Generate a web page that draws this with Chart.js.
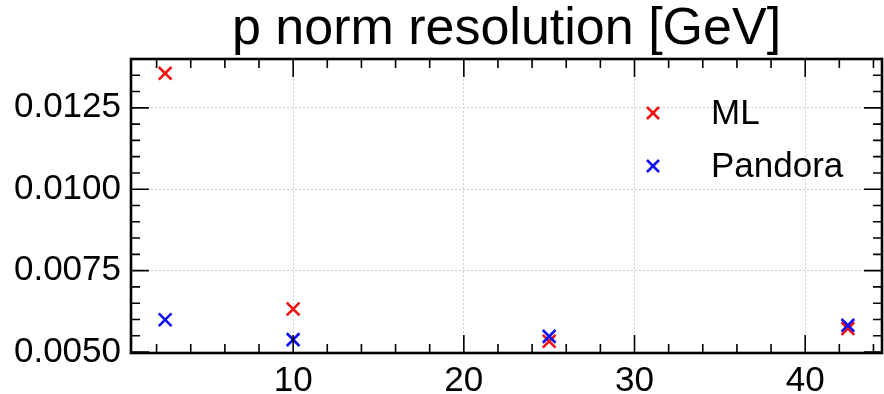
<!DOCTYPE html>
<html>
<head>
<meta charset="utf-8">
<script src="https://cdn.jsdelivr.net/npm/chart.js@4/dist/chart.umd.min.js"></script>
<style>
  html, body { margin: 0; padding: 0; background: #fff; }
  #resChart { display: block; }
</style>
</head>
<body>
<canvas id="resChart" width="884" height="394"></canvas>
<script>
// energy points and resolution per method
const energies = [2.5, 10, 25, 42.5];
const mlRes = [0.01356, 0.00632, 0.00533, 0.00572];
const pandoraRes = [0.00599, 0.00538, 0.00548, 0.00582];

const xTicks = [10, 20, 30, 40];
const yTicks = [0.0050, 0.0075, 0.0100, 0.0125];
const xMinorStep = 2;
const yMinorStep = 0.0005;

const FONT = "'Liberation Sans', Arial, Helvetica, sans-serif";

function toPoints(xs, ys) {
    return xs.map((x, i) => ({ x: x, y: ys[i] }));
}

// mpl-style frame with inward ticks on all four sides
const frameTicks = {
    id: 'frameTicks',
    afterDraw(chart) {
        const ctx = chart.ctx;
        const a = chart.chartArea;
        const xs = chart.scales.x, ys = chart.scales.y;
        const major = 18, minor = 9;
        ctx.save();
        ctx.strokeStyle = '#000';
        ctx.lineWidth = 1.6;
        ctx.beginPath();
        for (let v = Math.ceil(xs.min / xMinorStep) * xMinorStep; v <= xs.max; v += xMinorStep) {
            const len = xTicks.includes(v) ? major : minor;
            const px = xs.getPixelForValue(v);
            ctx.moveTo(px, a.bottom); ctx.lineTo(px, a.bottom - len);
            ctx.moveTo(px, a.top); ctx.lineTo(px, a.top + len);
        }
        const n = Math.round((ys.max - ys.min) / yMinorStep);
        for (let i = 0; i <= n + 1; i++) {
            const v = +(Math.ceil(ys.min / yMinorStep - 1e-6) * yMinorStep + i * yMinorStep).toFixed(6);
            if (v > ys.max) break;
            const isMajor = yTicks.some(t => Math.abs(t - v) < 1e-7);
            const len = isMajor ? major : minor;
            const py = ys.getPixelForValue(v);
            ctx.moveTo(a.left, py); ctx.lineTo(a.left + len, py);
            ctx.moveTo(a.right, py); ctx.lineTo(a.right - len, py);
        }
        ctx.stroke();
        ctx.lineWidth = 2.6;
        ctx.strokeRect(a.left, a.top, a.right - a.left, a.bottom - a.top);

        // legend in the upper right of the plot
        ctx.font = '35px ' + FONT;
        ctx.textBaseline = 'middle';
        chart.data.datasets.forEach((ds, i) => {
            const mx = a.right - 229, my = a.top + 54 + i * 53;
            ctx.strokeStyle = ds.borderColor;
            ctx.fillStyle = ds.borderColor;
            Chart.helpers.drawPoint(ctx, { pointStyle: 'crossRot', radius: 8.5, borderWidth: 2.4 }, mx, my);
            ctx.fillStyle = '#000';
            ctx.fillText(ds.label, a.right - 171, my + 1);
        });
        ctx.restore();
    }
};

const config = {
    type: 'scatter',
    data: {
        datasets: [{
            label: 'ML',
            data: toPoints(energies, mlRes),
            borderColor: '#f01010',
            backgroundColor: '#f01010',
            pointStyle: 'crossRot',
            pointRadius: 9,
            pointBorderWidth: 2.6,
            order: 1
        }, {
            label: 'Pandora',
            data: toPoints(energies, pandoraRes),
            borderColor: '#1010f0',
            backgroundColor: '#1010f0',
            pointStyle: 'crossRot',
            pointRadius: 9,
            pointBorderWidth: 2.6,
            order: 0
        }]
    },
    options: {
        responsive: false,
        animation: false,
        devicePixelRatio: 1,
        layout: { autoPadding: false, padding: { right: 2, left: 0, top: 0, bottom: 0 } },
        plugins: {
            legend: { display: false },
            tooltip: { enabled: false },
            title: {
                display: true,
                fullSize: false,
                text: 'p norm resolution [GeV]',
                color: '#000',
                font: { family: FONT, size: 52, weight: 'normal', lineHeight: 1.0 },
                padding: { top: 4, bottom: 3 }
            }
        },
        scales: {
            x: {
                type: 'linear',
                min: 0.5,
                max: 44.5,
                afterBuildTicks: (s) => { s.ticks = xTicks.map(v => ({ value: v })); },
                afterFit: (s) => { s.height = 41; },
                border: { display: false, dash: [2, 2] },
                grid: { color: '#cfcfcf', lineWidth: 1, drawTicks: false },
                ticks: {
                    color: '#000',
                    padding: 7,
                    maxRotation: 0,
                    font: { family: FONT, size: 35 },
                    callback: (v) => String(v)
                }
            },
            y: {
                type: 'linear',
                min: 0.00497,
                max: 0.0140,
                afterBuildTicks: (s) => { s.ticks = yTicks.map(v => ({ value: v })); },
                afterFit: (s) => { s.width = 131; },
                border: { display: false, dash: [2, 2] },
                grid: { color: '#cfcfcf', lineWidth: 1, drawTicks: false },
                ticks: {
                    color: '#000',
                    padding: 10,
                    font: { family: FONT, size: 35 },
                    callback: (v) => v.toFixed(4)
                }
            }
        }
    },
    plugins: [frameTicks]
};

var resChart = new Chart(document.getElementById('resChart'), config);
</script>
</body>
</html>
